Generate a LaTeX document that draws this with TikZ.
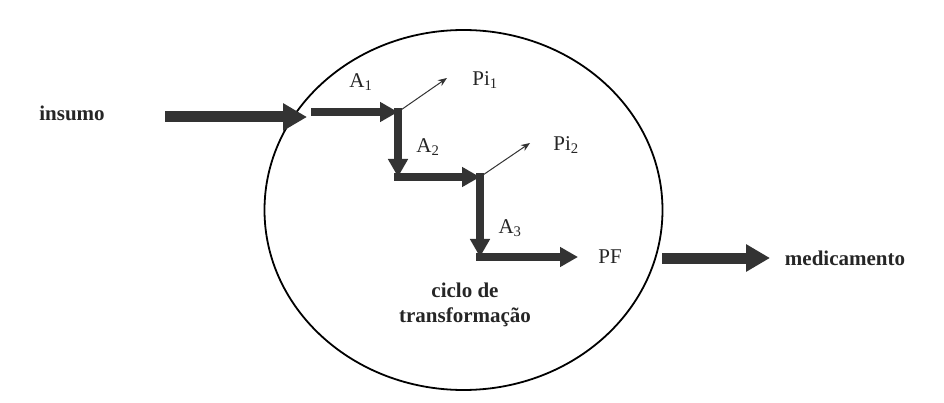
\documentclass[tikz,border=0pt]{standalone}
\usepackage{fontspec}
\setmainfont{Liberation Serif}
\usetikzlibrary{arrows.meta, positioning, shapes.geometric}

\begin{document}
\begin{tikzpicture}[
      x=1pt, y=-1pt,
      lbl/.style={inner sep=1pt, text=black!85, font=\fontsize{21}{25}\selectfont},
      bold lbl/.style={lbl, font=\fontsize{21}{25}\selectfont\bfseries},
      big flow/.style={draw=black!80, line width=11pt, -{Triangle[length=24pt, width=26pt]}},
      step flow/.style={draw=black!80, line width=8pt, line cap=rect, -{Triangle[length=18pt, width=19pt]}},
      side flow/.style={draw=black!80, line width=1pt, -{Stealth[length=9pt, width=7pt]}}
    ]
    \useasboundingbox (0,0) rectangle (944,403);
    \fill[white] (0,0) rectangle (944,403);

    % transformation cycle
    \node[draw, line width=1.8pt, ellipse, inner sep=0pt, minimum width=398pt, minimum height=360pt] (cycle) at (463.5,210) {};

    \node[bold lbl] (insumo) at (72,113) {insumo};
    \node[bold lbl] (medic) at (845,258) {medicamento};
    \node[bold lbl, align=center] (ciclo) at (465,305) {ciclo de\\transformação};

    \coordinate (in0) at (165,117);
    \coordinate (in1) at (307,117);
    \coordinate (out0) at (662,258);
    \coordinate (out1) at (770,258);

    % stair of stages
    \coordinate (k0) at (315,112);
    \coordinate (k1) at (398,112);
    \coordinate (k2) at (398,177);
    \coordinate (k3) at (480,177);
    \coordinate (k4) at (480,257);
    \coordinate (k5) at (578,257);
    \coordinate (p1) at (447,78);
    \coordinate (p2) at (530,143);

    \node[lbl] (a1) at (361,82) {A\textsubscript{1}};
    \node[lbl] (a2) at (428,147) {A\textsubscript{2}};
    \node[lbl] (a3) at (510,228) {A\textsubscript{3}};
    \node[lbl] (pi1) at (485,80) {Pi\textsubscript{1}};
    \node[lbl] (pi2) at (566,145) {Pi\textsubscript{2}};
    \node[lbl] (pf) at (610,257) {PF};

    \draw[big flow] (in0) -- (in1);
    \draw[big flow] (out0) -- (out1);
    \foreach \a/\b in {k0/k1, k1/k2, k2/k3, k3/k4, k4/k5}
      \draw[step flow] (\a) -- (\b);
    \draw[side flow] (k1) -- (p1);
    \draw[side flow] (k3) -- (p2);
  \end{tikzpicture}
\end{document}
